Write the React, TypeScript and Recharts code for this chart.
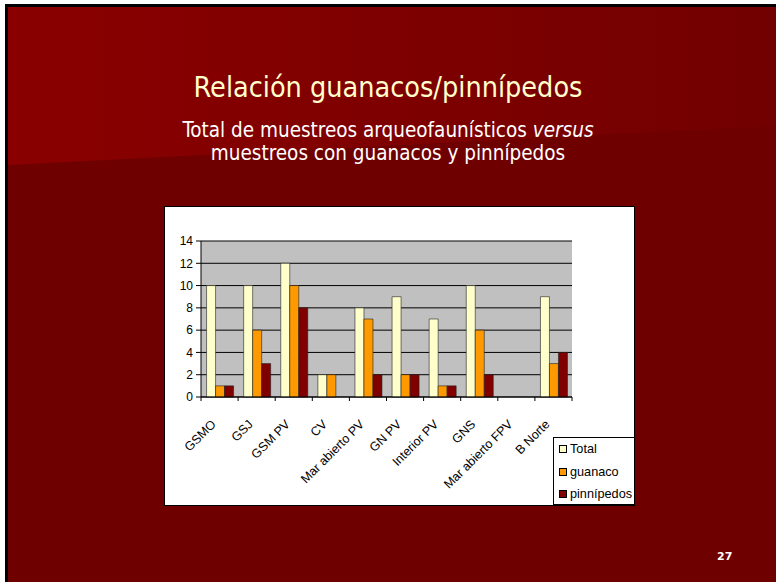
import { BarChart, Bar, XAxis, YAxis, CartesianGrid } from 'recharts';

const categories = ['GSMO', 'GSJ', 'GSM PV', 'CV', 'Mar abierto PV', 'GN PV', 'Interior PV', 'GNS', 'Mar abierto FPV', 'B Norte'];
const totalValues = [10, 10, 12, 2, 8, 9, 7, 10, 0, 9];
const guanacoValues = [1, 6, 10, 2, 7, 2, 1, 6, 0, 3];
const pinnipedosValues = [1, 3, 8, 0, 2, 2, 1, 2, 0, 4];
const yTicks = [0, 2, 4, 6, 8, 10, 12, 14];

const data = categories.map((name, i) => ({
  name,
  Total: totalValues[i],
  guanaco: guanacoValues[i],
  'pinnípedos': pinnipedosValues[i],
}));

const series = [
  { key: 'Total', color: '#FFFFCC' },
  { key: 'guanaco', color: '#FF9900' },
  { key: 'pinnípedos', color: '#800000' },
];

const CHART_W = 469;
const CHART_H = 298;
const MARGIN = { top: 34, right: 62, left: 0, bottom: 0 };
const Y_W = 36;
const BAND = (CHART_W - MARGIN.right - Y_W) / categories.length;

const axisFont = "'Liberation Sans', Arial, sans-serif";

// rotated category label plus the tick mark on the band's right edge
function CategoryTick(props: any) {
  const { x, y, payload, index } = props;
  const top = y - 8;
  const ax = x - 3;
  const ay = top + 28;
  return (
    <g>
      {index === 0 && <line x1={x - BAND / 2} x2={x - BAND / 2} y1={top} y2={top + 4} stroke="#000" />}
      <line x1={x + BAND / 2} x2={x + BAND / 2} y1={top} y2={top + 4} stroke="#000" />
      <text
        x={ax}
        y={ay}
        textAnchor="end"
        fontSize={12.5}
        fontFamily={axisFont}
        fill="#000"
        transform={`rotate(-45, ${ax}, ${ay})`}
      >
        {payload.value}
      </text>
    </g>
  );
}

function LegendBox() {
  return (
    <div
      style={{
        position: 'absolute',
        left: 388,
        top: 230,
        width: 82,
        height: 68,
        border: '1px solid #000',
        background: '#fff',
        padding: '0 0 0 5px',
        fontFamily: axisFont,
        fontSize: 12.7,
        boxSizing: 'border-box',
      }}
    >
      {series.map((s) => (
        <div key={s.key} style={{ display: 'flex', alignItems: 'center', height: 22.5 }}>
          <span
            style={{
              width: 6,
              height: 6,
              background: s.color,
              border: '1px solid #000',
              marginRight: 3,
            }}
          />
          <span>{s.key}</span>
        </div>
      ))}
    </div>
  );
}

export default function App() {
  const titleFont = "'DejaVu Sans Condensed', 'DejaVu Sans', sans-serif";
  return (
    <div style={{ position: 'absolute', left: 0, top: 0, width: 776, height: 582, background: '#fff', overflow: 'hidden' }}>
      <div
        style={{
          position: 'absolute',
          left: 5,
          top: 4,
          width: 780,
          height: 590,
          background: '#6F0000',
          borderLeft: '3px solid #000',
          borderTop: '3px solid #000',
        }}
      >
        <div
          style={{
            position: 'absolute',
            inset: 0,
            background: 'linear-gradient(90deg, #8A0000 0%, #7E0000 50%, #720000 100%)',
            clipPath: 'polygon(0 0, 100% 0, 100% 118px, 0 158px)',
          }}
        />
      </div>

      <div
        style={{
          position: 'absolute',
          left: 0,
          width: 776,
          top: 71,
          textAlign: 'center',
          color: '#FFFFCC',
          fontFamily: titleFont,
          fontSize: 28.5,
        }}
      >
        Relación guanacos/pinnípedos
      </div>
      <div
        style={{
          position: 'absolute',
          left: 0,
          width: 776,
          top: 119,
          textAlign: 'center',
          color: '#fff',
          fontFamily: titleFont,
          fontSize: 20.5,
          lineHeight: '23px',
        }}
      >
        Total de muestreos arqueofaunísticos <i>versus</i>
        <br />
        muestreos con guanacos y pinnípedos
      </div>

      <div
        style={{
          position: 'absolute',
          left: 165,
          top: 207,
          width: CHART_W,
          height: CHART_H,
          background: '#fff',
          outline: '1px solid #000',
        }}
      >
        <BarChart
          width={CHART_W}
          height={CHART_H}
          data={data}
          margin={MARGIN}
          barCategoryGap="15%"
          barGap={0}
        >
          <CartesianGrid vertical={false} stroke="#000" fill="#C0C0C0" fillOpacity={1} />
          <XAxis
            dataKey="name"
            interval={0}
            height={108}
            tickLine={false}
            axisLine={{ stroke: '#000' }}
            tick={<CategoryTick />}
          />
          <YAxis
            domain={[0, 14]}
            ticks={yTicks}
            width={Y_W}
            interval={0}
            tickSize={5}
            tickMargin={3}
            axisLine={{ stroke: '#000' }}
            tickLine={{ stroke: '#000' }}
            tick={{ fontSize: 12, fill: '#000', fontFamily: axisFont }}
          />
          {series.map((s) => (
            <Bar
              key={s.key}
              dataKey={s.key}
              fill={s.color}
              stroke="#222"
              strokeWidth={0.6}
              isAnimationActive={false}
            />
          ))}
        </BarChart>
        <LegendBox />
      </div>

      <div
        style={{
          position: 'absolute',
          left: 717,
          top: 550,
          color: '#fff',
          fontFamily: "'DejaVu Sans', sans-serif",
          fontWeight: 'bold',
          fontSize: 11,
        }}
      >
        27
      </div>
    </div>
  );
}
